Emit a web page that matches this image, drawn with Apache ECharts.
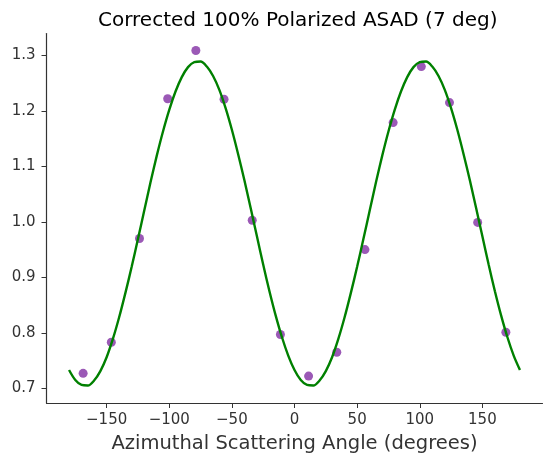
<!DOCTYPE html>
<html>
<head>
<meta charset="utf-8">
<script src="https://cdn.jsdelivr.net/npm/echarts@6/dist/echarts.min.js"></script>
<style>
  html, body { margin: 0; padding: 0; background: #fff; }
  #chart { width: 552px; height: 465px; }
</style>
</head>
<body>
<div id="chart"></div>
<script>
// measured points (bin centres, degrees)
const angles = [-168.75, -146.25, -123.75, -101.25, -78.75, -56.25, -33.75, -11.25,
  11.25, 33.75, 56.25, 78.75, 101.25, 123.75, 146.25, 168.75]
const counts = [0.727, 0.783, 0.970, 1.222, 1.309, 1.221, 1.003, 0.797,
  0.722, 0.765, 0.950, 1.179, 1.280, 1.215, 0.999, 0.801]

// fit curve every 5 degrees, -180 .. 180
const fitAngles = [-180, -175, -170, -165, -160, -155, -150, -145, -140, -135, -130, -125,
  -120, -115, -110, -105, -100, -95, -90, -85, -80, -75, -70, -65, -60, -55, -50, -45,
  -40, -35, -30, -25, -20, -15, -10, -5, 0, 5, 10, 15, 20, 25, 30, 35, 40, 45, 50, 55,
  60, 65, 70, 75, 80, 85, 90, 95, 100, 105, 110, 115, 120, 125, 130, 135, 140, 145,
  150, 155, 160, 165, 170, 175, 180]
const fitValues = [0.733, 0.715, 0.706, 0.705, 0.714, 0.731, 0.756, 0.789, 0.828, 0.872,
  0.919, 0.969, 1.020, 1.071, 1.119, 1.163, 1.202, 1.235, 1.261, 1.279, 1.288, 1.289,
  1.280, 1.263, 1.238, 1.205, 1.166, 1.122, 1.075, 1.025, 0.974, 0.923, 0.875, 0.831,
  0.792, 0.759,
  0.733, 0.715, 0.706, 0.705, 0.714, 0.731, 0.756, 0.789, 0.828, 0.872,
  0.919, 0.969, 1.020, 1.071, 1.119, 1.163, 1.202, 1.235, 1.261, 1.279, 1.288, 1.289,
  1.280, 1.263, 1.238, 1.205, 1.166, 1.122, 1.075, 1.025, 0.974, 0.923, 0.875, 0.831,
  0.792, 0.759, 0.733]

const xTicks = [-150, -100, -50, 0, 50, 100, 150]
const yTicks = [0.7, 0.8, 0.9, 1.0, 1.1, 1.2, 1.3]

const chart = echarts.init(document.getElementById('chart'))
const font = 'DejaVu Sans'
const axisColor = '#333333'

chart.setOption({
  animation: false,
  textStyle: { fontFamily: font },
  title: {
    text: 'Corrected 100% Polarized ASAD (7 deg)',
    left: 93,
    top: 6,
    textStyle: { fontFamily: font, fontSize: 20, fontWeight: 'normal', color: '#000' }
  },
  grid: { left: 46.5, right: 9.5, top: 33.5, bottom: 62 },
  xAxis: {
    type: 'value',
    min: -198,
    max: 198,
    name: 'Azimuthal Scattering Angle (degrees)',
    nameLocation: 'middle',
    nameGap: 31,
    nameTextStyle: { fontFamily: font, fontSize: 19.5, color: axisColor },
    axisLine: { show: true, onZero: false, lineStyle: { color: axisColor, width: 1.2 } },
    axisTick: { show: true, length: 5, customValues: xTicks, lineStyle: { color: axisColor } },
    axisLabel: {
      customValues: xTicks,
      margin: 10,
      fontSize: 15,
      color: axisColor,
      formatter: v => String(v).replace('-', '\u2212')
    },
    splitLine: { show: false }
  },
  yAxis: {
    type: 'value',
    min: 0.6735,
    max: 1.3396,
    axisLine: { show: true, onZero: false, lineStyle: { color: axisColor, width: 1.2 } },
    axisTick: { show: true, length: 5, customValues: yTicks, lineStyle: { color: axisColor } },
    axisLabel: {
      customValues: yTicks,
      margin: 11,
      fontSize: 15,
      color: axisColor,
      formatter: v => v.toFixed(1)
    },
    splitLine: { show: false }
  },
  series: [
    {
      type: 'scatter',
      data: angles.map((a, i) => [a, counts[i]]),
      symbolSize: 9,
      itemStyle: { color: '#9b59b6', opacity: 1 },
      z: 2
    },
    {
      type: 'line',
      data: fitAngles.map((a, i) => [a, fitValues[i]]),
      smooth: 0.3,
      showSymbol: false,
      lineStyle: { color: '#008000', width: 2.4 },
      z: 3
    }
  ]
})
</script>
</body>
</html>
